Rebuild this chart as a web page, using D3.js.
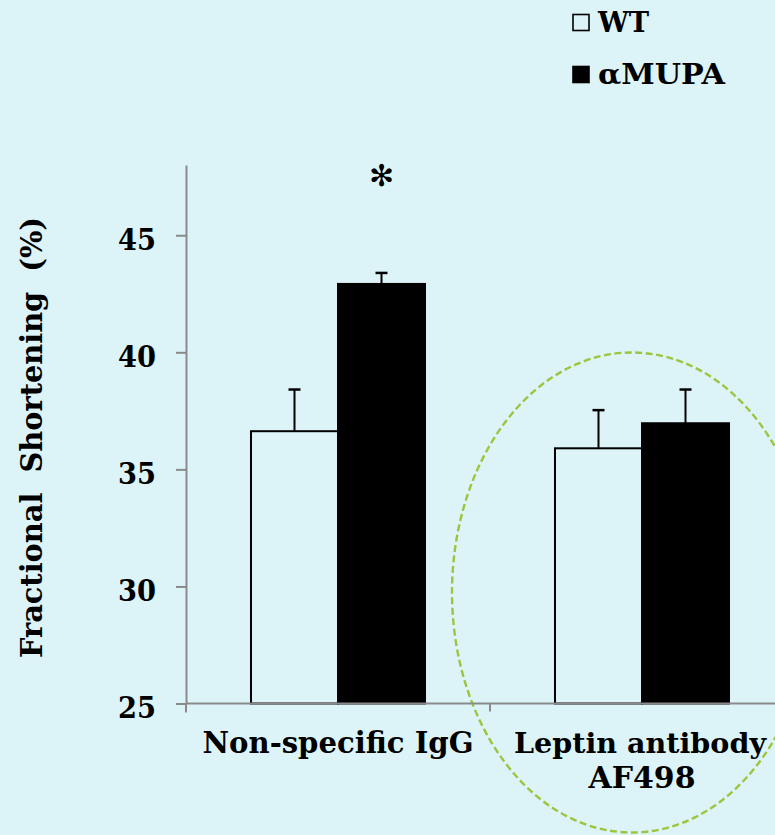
<!DOCTYPE html>
<html>
<head>
<meta charset="utf-8">
<script src="https://cdn.jsdelivr.net/npm/d3@7"></script>
<style>
  html, body { margin: 0; padding: 0; background: #dcf4f8; }
  svg { display: block; }
  text { font-family: "DejaVu Serif", "Liberation Serif", serif; font-weight: bold; fill: #000; }
</style>
</head>
<body>
<svg id="chart" width="775" height="835"></svg>
<script>
// ---- data ----
const categories = ["Non-specific IgG", "Leptin antibody AF498"];
const categoryLabelLines = [["Non-specific IgG"], ["Leptin antibody", "AF498"]];
const seriesNames = ["WT", "αMUPA"];
const wtValues = [36.63, 35.90];
const wtErrors = [1.78, 1.63];
const mupaValues = [42.92, 36.97];
const mupaErrors = [0.47, 1.44];
const yTicks = [25, 30, 35, 40, 45];
const yTitle = "Fractional  Shortening  (%)";
const significance = ["*", ""];

const bg = "#dcf4f8";
const axisColor = "#8a8a8a";

const svg = d3.select("#chart");
svg.append("rect").attr("width", 775).attr("height", 835).attr("fill", bg);

const y = d3.scaleLinear().domain([25, 48]).range([703.5, 165]);
const x = d3.scaleBand().domain(categories).range([186, 794]).paddingInner(0).paddingOuter(0);
const xs = d3.scaleBand().domain(seriesNames).range([0, x.bandwidth()]).paddingInner(0).paddingOuter(0.747);

const rows = categories.map((c, i) => ({
  cat: c,
  vals: [
    { s: "WT", v: wtValues[i], e: wtErrors[i] },
    { s: "αMUPA", v: mupaValues[i], e: mupaErrors[i] }
  ]
}));

// ellipse annotation (behind)
svg.append("ellipse")
  .attr("cx", x(categories[1]) + x.bandwidth() / 2 - 10)
  .attr("cy", 592.5)
  .attr("rx", 180).attr("ry", 240)
  .attr("fill", "none")
  .attr("stroke", "#9cc43f")
  .attr("stroke-width", 2.4)
  .attr("stroke-dasharray", "7,3.5");

// bars
const g = svg.selectAll("g.cat").data(rows).join("g")
  .attr("class", "cat")
  .attr("transform", d => `translate(${x(d.cat)},0)`);

g.selectAll("line.err").data(d => d.vals).join("line")
  .attr("x1", d => xs(d.s) + xs.bandwidth() / 2)
  .attr("x2", d => xs(d.s) + xs.bandwidth() / 2)
  .attr("y1", d => y(d.v))
  .attr("y2", d => y(d.v + d.e))
  .attr("stroke", "#000").attr("stroke-width", 2);
g.selectAll("line.cap").data(d => d.vals).join("line")
  .attr("x1", d => xs(d.s) + xs.bandwidth() / 2 - 6)
  .attr("x2", d => xs(d.s) + xs.bandwidth() / 2 + 6)
  .attr("y1", d => y(d.v + d.e))
  .attr("y2", d => y(d.v + d.e))
  .attr("stroke", "#000").attr("stroke-width", 2.5);

g.selectAll("rect").data(d => d.vals).join("rect")
  .attr("x", d => xs(d.s))
  .attr("width", xs.bandwidth())
  .attr("y", d => y(d.v))
  .attr("height", d => y(25) - y(d.v))
  .attr("fill", d => d.s === "WT" ? bg : "#000")
  .attr("stroke", "#000").attr("stroke-width", 2);

// significance marks
g.append("text")
  .attr("x", x.bandwidth() / 2 + xs.bandwidth() / 2 + 0)
  .attr("y", 186)
  .attr("text-anchor", "middle")
  .style("font-family", "DejaVu Sans")
  .style("font-weight", "normal")
  .style("font-size", "30px")
  .text((d, i) => significance[i] ? "✻" : "");

// y axis
const yAxis = d3.axisLeft(y).tickValues(yTicks).tickSize(10).tickSizeOuter(0).tickPadding(20).tickFormat(d3.format("d"));
const ya = svg.append("g").attr("transform", "translate(186,0)").call(yAxis);
ya.select(".domain").attr("stroke", axisColor).attr("stroke-width", 2);
ya.selectAll(".tick line").attr("stroke", axisColor).attr("stroke-width", 2);
ya.selectAll(".tick text")
  .attr("dy", "0.46em")
  .attr("textLength", 38)
  .attr("lengthAdjust", "spacingAndGlyphs")
  .style("font-family", "DejaVu Serif").style("font-weight", "bold").style("font-size", "30px").attr("fill", "#000");

// x axis line
svg.append("line")
  .attr("x1", 186).attr("x2", 775)
  .attr("y1", y(25)).attr("y2", y(25))
  .attr("stroke", axisColor).attr("stroke-width", 2);
// boundary ticks
svg.selectAll("line.xtick").data(categories).join("line")
  .attr("class", "xtick")
  .attr("x1", d => x(d)).attr("x2", d => x(d))
  .attr("y1", y(25)).attr("y2", (d, i) => y(25) + (i === 0 ? 9 : 8))
  .attr("stroke", axisColor).attr("stroke-width", 2);

// category labels
const labelWidths = [[271], [252, 107]];
const labelShift = [[0], [-2, 0]];
const labelSizes = [[30], [28, 30]];
categories.forEach((c, i) => {
  categoryLabelLines[i].forEach((line, j) => {
    svg.append("text")
      .attr("x", x(c) + x.bandwidth() / 2 + labelShift[i][j])
      .attr("y", 753 + j * 35)
      .attr("text-anchor", "middle")
      .attr("textLength", labelWidths[i][j])
      .attr("lengthAdjust", "spacingAndGlyphs")
      .style("font-size", labelSizes[i][j] + "px")
      .text(line);
  });
});

// y title
svg.append("text")
  .attr("transform", "translate(42,437.5) rotate(-90)")
  .attr("text-anchor", "middle")
  .attr("textLength", 441)
  .attr("lengthAdjust", "spacingAndGlyphs")
  .style("font-size", "30px")
  .style("white-space", "pre")
  .text(yTitle);

// legend
const legend = svg.append("g");
const legendRows = [
  { name: seriesNames[0], fill: bg, y: 32, w: 51 },
  { name: seriesNames[1], fill: "#000", y: 84, w: 127 }
];
legendRows.forEach(r => {
  legend.append("rect")
    .attr("x", 573).attr("y", r.y - 17.5)
    .attr("width", 16).attr("height", 16)
    .attr("fill", r.fill).attr("stroke", "#000").attr("stroke-width", 1.6);
  legend.append("text")
    .attr("x", 598).attr("y", r.y)
    .attr("textLength", r.w)
    .attr("lengthAdjust", "spacingAndGlyphs")
    .style("font-size", "28px")
    .text(r.name);
});
</script>
</body>
</html>
